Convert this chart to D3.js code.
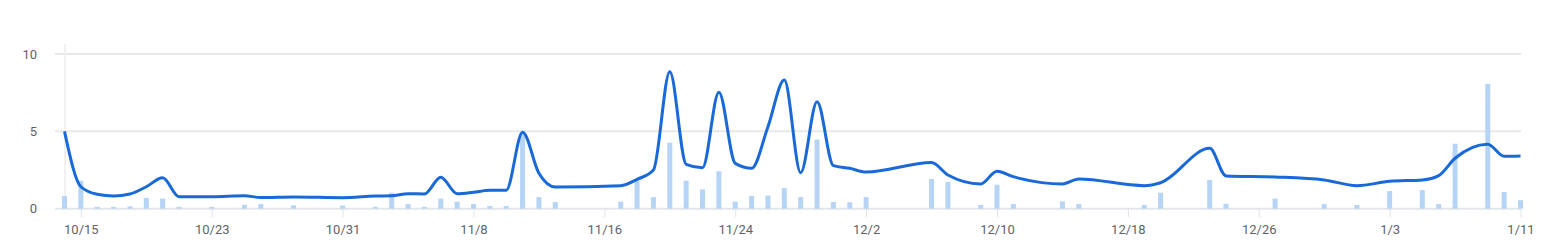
<!DOCTYPE html>
<html><head><meta charset="utf-8">
<script src="https://cdn.jsdelivr.net/npm/d3@7/dist/d3.min.js"></script>
<style>
html,body{margin:0;padding:0;background:#fff;}
text{font-family:Roboto, "Noto Sans", sans-serif;}
</style></head>
<body><svg id="c" width="1553" height="246"></svg>
<script>
const dates = ["10/14","10/15","10/16","10/17","10/18","10/19","10/20","10/21","10/23","10/25","10/26","10/28","10/31","11/2","11/3","11/4","11/5","11/6","11/7","11/8","11/9","11/10","11/11","11/12","11/13","11/17","11/18","11/19","11/20","11/21","11/22","11/23","11/24","11/25","11/26","11/27","11/28","11/29","11/30","12/1","12/2","12/6","12/7","12/9","12/10","12/11","12/14","12/15","12/19","12/20","12/23","12/24","12/27","12/30","1/1","1/3","1/5","1/6","1/7","1/9","1/10","1/11"];
const barValues = [0.82,1.81,0.12,0.12,0.15,0.7,0.65,0.12,0.12,0.25,0.3,0.22,0.2,0.12,1.03,0.3,0.12,0.65,0.45,0.3,0.17,0.17,4.95,0.75,0.43,0.45,1.81,0.75,4.27,1.81,1.25,2.42,0.45,0.83,0.85,1.33,0.75,4.47,0.43,0.41,0.75,1.92,1.73,0.24,1.55,0.3,0.47,0.3,0.24,1.03,1.86,0.32,0.65,0.3,0.24,1.14,1.2,0.3,4.2,8.07,1.08,0.55];
const lineValues = [5.0,1.42,0.93,0.82,0.95,1.42,2.0,0.78,0.78,0.84,0.72,0.76,0.71,0.82,0.84,0.97,0.95,2.03,0.97,1.06,1.19,1.19,4.94,2.29,1.4,1.49,1.9,2.5,8.86,2.87,2.65,7.53,2.93,2.61,5.3,8.32,2.33,6.92,2.78,2.61,2.37,2.98,2.18,1.6,2.42,2.07,1.6,1.92,1.49,1.68,3.9,2.12,2.05,1.86,1.49,1.77,1.86,2.14,3.26,4.17,3.39,3.41];
const xTickLabels = ["10/15","10/23","10/31","11/8","11/16","11/24","12/2","12/10","12/18","12/26","1/3","1/11"];
const yTicks = [0,5,10];

function toDate(s){const [m,d]=s.split("/").map(Number);return new Date(m>=10?2023:2024,m-1,d);}
const data = dates.map((d,i)=>({date:toDate(d),bar:barValues[i],line:lineValues[i]}));

const svg = d3.select("#c");
const x = d3.scaleTime().domain([toDate("10/14"),toDate("1/11")]).range([64.5,1520.5]);
const y = d3.scaleLinear().domain([0,10]).range([208.7,54]);

// horizontal grid
svg.append("g").selectAll("line").data(yTicks).join("line")
  .attr("x1",55).attr("x2",1521).attr("y1",d=>y(d)).attr("y2",d=>y(d))
  .attr("stroke",d=>d===0?"#e3e6ea":"#e9e9e9").attr("stroke-width",2);
// left vertical line
svg.append("line").attr("x1",65).attr("x2",65).attr("y1",44).attr("y2",209)
  .attr("stroke","#ececec").attr("stroke-width",1.5);

// y labels
svg.append("g").selectAll("text").data(yTicks).join("text")
  .attr("x",37).attr("y",d=>y(d)).attr("dy","0.35em").attr("text-anchor","end")
  .attr("font-size",13).attr("fill","#5f6368").text(d=>d);

// x axis
const tickDates = xTickLabels.map(toDate);
const xAxis = d3.axisBottom(x).tickValues(tickDates).tickFormat(d=>(d.getMonth()+1)+"/"+d.getDate()).tickSize(8).tickPadding(8);
const gx = svg.append("g").attr("transform","translate(0,209)").call(xAxis);
gx.select(".domain").remove();
gx.selectAll(".tick line").attr("stroke","#e0e3e7").attr("stroke-width",1);
gx.selectAll(".tick text").attr("font-size",13).attr("fill","#5f6368").attr("font-family","Roboto, sans-serif");

// bars
const bw = 5;
svg.append("g").selectAll("rect").data(data).join("rect")
  .attr("x",d=>x(d.date)-bw/2).attr("width",bw)
  .attr("y",d=>y(d.bar)).attr("height",d=>y(0)-y(d.bar))
  .attr("fill","#b6d5f6");

// line
const line = d3.line().x(d=>x(d.date)).y(d=>y(d.line)).curve(d3.curveMonotoneX);
svg.append("path").datum(data).attr("d",line).attr("fill","none")
  .attr("stroke","#1a69d9").attr("stroke-width",3).attr("stroke-linejoin","round");
</script></body></html>
